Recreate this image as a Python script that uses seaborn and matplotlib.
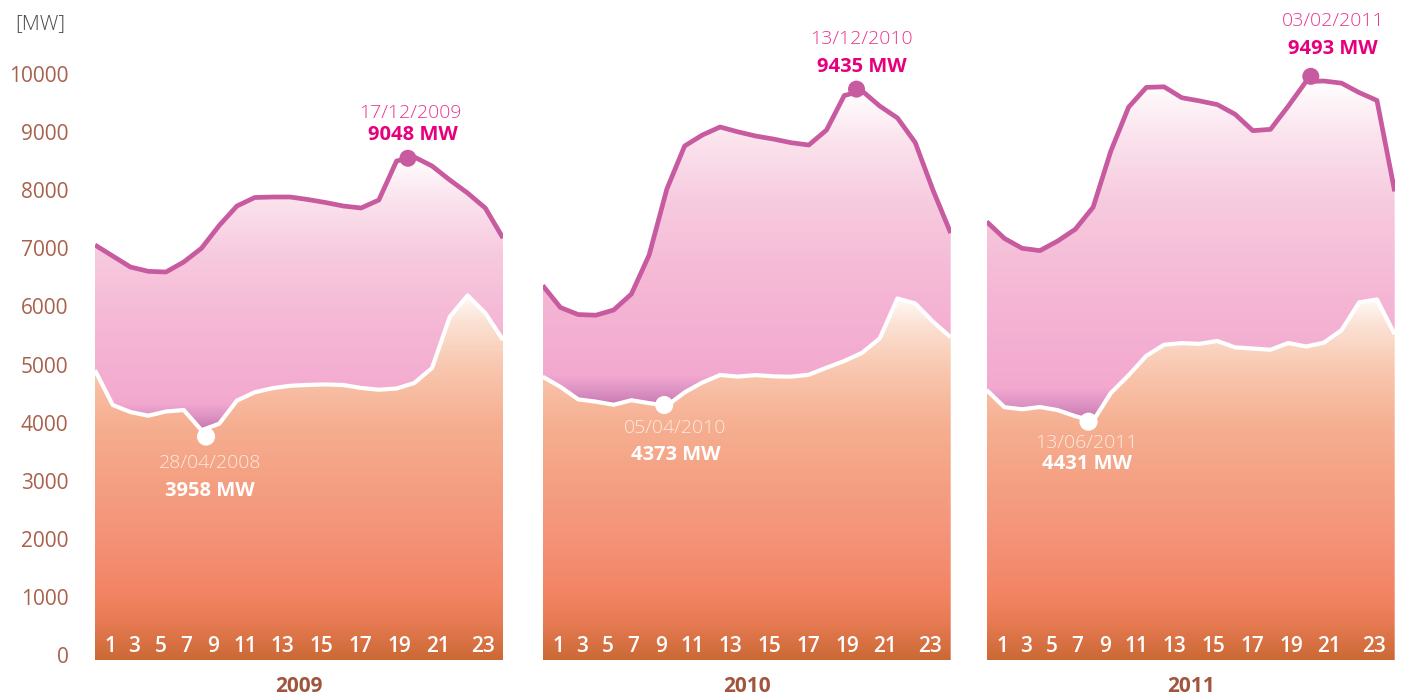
import numpy as np
import pandas as pd
import matplotlib
matplotlib.use("Agg")
import matplotlib.pyplot as plt
import seaborn as sns
from matplotlib.colors import to_rgba

# ---------------- data ----------------
hours = list(range(1, 25))
years = ["2009", "2010", "2011"]

max_2009 = [7057, 6867, 6678, 6604, 6592, 6764, 7000, 7392, 7728, 7874, 7883, 7883,
            7840, 7788, 7728, 7694, 7831, 8503, 8571, 8417, 8176, 7952, 7694, 7177]
min_2009 = [4900, 4303, 4182, 4119, 4191, 4217, 3870, 3980, 4379, 4522, 4592, 4634,
            4649, 4657, 4647, 4596, 4566, 4587, 4682, 4940, 5820, 6188, 5886, 5422]

max_2010 = [6360, 5981, 5860, 5849, 5938, 6213, 6885, 8021, 8761, 8950, 9088, 9005,
            8933, 8881, 8818, 8778, 9036, 9630, 9710, 9449, 9243, 8821, 8003, 7263]
min_2010 = [4790, 4615, 4400, 4361, 4307, 4385, 4335, 4290, 4520, 4690, 4819, 4792,
            4818, 4797, 4790, 4825, 4945, 5060, 5200, 5450, 6137, 6050, 5737, 5470]

max_2011 = [7458, 7170, 7000, 6960, 7125, 7330, 7708, 8676, 9430, 9770, 9780, 9592,
            9537, 9474, 9308, 9025, 9048, 9447, 9870, 9880, 9843, 9680, 9545, 7980]
min_2011 = [4560, 4265, 4230, 4268, 4215, 4110, 4030, 4510, 4815, 5150, 5340, 5368,
            5356, 5405, 5295, 5275, 5254, 5370, 5310, 5375, 5590, 6070, 6120, 5520]

peak_hour = [18.64, 18.69, 19.27]
peak_value = [8550, 9740, 9960]
peak_date = ["17/12/2009", "13/12/2010", "03/02/2011"]
peak_label = ["9048 MW", "9435 MW", "9493 MW"]

low_hour = [7.26, 7.85, 6.74]
low_value = [3760, 4303, 4016]
low_date = ["28/04/2008", "05/04/2010", "13/06/2011"]
low_label = ["3958 MW", "4373 MW", "4431 MW"]

y_ticks = [0, 1000, 2000, 3000, 4000, 5000, 6000, 7000, 8000, 9000, 10000]
hour_labels = ["1", "3", "5", "7", "9", "11", "13", "15", "17", "19", "21", "23"]

max_series = [max_2009, max_2010, max_2011]
min_series = [min_2009, min_2010, min_2011]

# ---------------- styling ----------------
sns.set_theme(style="white")
plt.rcParams["font.family"] = ["Open Sans", "DejaVu Sans"]

W, H = 1402, 695
fig = plt.figure(figsize=(W / 100, H / 100), dpi=100)
fig.patch.set_facecolor("white")

panel_left_px = [95, 542.7, 986.7]
panel_w_px = 408
ax_bottom_px = 660
YLO, YHI = -86, 11274

label_frac = [0.038, 0.096, 0.16, 0.223, 0.29, 0.368, 0.46, 0.555, 0.65, 0.746, 0.84, 0.95]

peak_date_off = [(2, 45), (5, 50), (22, 55)]
peak_val_off = [(5, 23), (5, 22), (22, 27)]
low_date_off = [(4, -26), (11, -23), (-2, -21)]
low_val_off = [(4, -54), (12, -50), (-2, -42)]

pink_stops = [(0.0, "#FFFFFF"), (0.15, "#FBE4EE"), (0.35, "#F7CBDF"), (0.6, "#F5B8D5"),
              (0.9, "#F3A9CF"), (0.95, "#DE94C4"), (1.0, "#C676AF")]
orange_stops = [(0.0, "#FFFAF6"), (0.07, "#FBE2D5"), (0.19, "#F9C8B0"), (0.35, "#F6AF91"),
                (0.51, "#F5A082"), (0.67, "#F49278"), (0.83, "#F28362"), (0.9, "#E67A52"),
                (1.0, "#CB6935")]


def gradient_image(stops, n=300):
    t = np.linspace(0, 1, n)
    pos = [s[0] for s in stops]
    cols = np.array([to_rgba(s[1]) for s in stops])
    rgba = np.stack([np.interp(t, pos, cols[:, k]) for k in range(4)], axis=1)
    return rgba.reshape(n, 1, 4)


def gradient_fill(ax, x, y_bot, y_top, stops, lo, hi):
    poly = ax.fill_between(x, y_bot, y_top, color="none", lw=0)
    img = gradient_image(stops)
    im = ax.imshow(img, extent=[x[0], x[-1], lo, hi], aspect="auto",
                   origin="upper", zorder=1, interpolation="bilinear")
    im.set_clip_path(poly.get_paths()[0], ax.transData)
    poly.remove()


axes = []
for i, yr in enumerate(years):
    ax = fig.add_axes([panel_left_px[i] / W, (H - ax_bottom_px) / H,
                       panel_w_px / W, ax_bottom_px / H])
    axes.append(ax)
    df = pd.DataFrame({"hour": hours, "max": max_series[i], "min": min_series[i]})
    x = np.array(hours, dtype=float)
    lower = np.array(min_series[i], dtype=float)
    upper = np.array(max_series[i], dtype=float)

    # orange area under the minimum-day curve
    gradient_fill(ax, x, np.full_like(lower, YLO), lower, orange_stops, YLO, lower.max())
    # pink area between minimum and maximum day curves
    gradient_fill(ax, x, lower, upper, pink_stops, lower.min(), upper.max())

    sns.lineplot(data=df, x="hour", y="max", ax=ax, color="#C85AA0", linewidth=3.4,
                 zorder=3, solid_joinstyle="round", solid_capstyle="butt")
    sns.lineplot(data=df, x="hour", y="min", ax=ax, color="white", linewidth=3.0,
                 zorder=3, solid_joinstyle="round", solid_capstyle="butt")

    sns.scatterplot(x=[peak_hour[i]], y=[peak_value[i]], ax=ax, color="#C85AA0",
                    s=150, edgecolor="none", zorder=4)
    sns.scatterplot(x=[low_hour[i]], y=[low_value[i]], ax=ax, color="white",
                    s=170, edgecolor="none", zorder=4)

    # annotations
    ax.annotate(peak_date[i], (peak_hour[i], peak_value[i]), xytext=peak_date_off[i],
                textcoords="offset pixels", ha="center", va="center",
                fontsize=14, color="#E8368F", fontweight="light", zorder=5)
    ax.annotate(peak_label[i], (peak_hour[i], peak_value[i]), xytext=peak_val_off[i],
                textcoords="offset pixels", ha="center", va="center",
                fontsize=14.5, color="#E6007E", fontweight="bold", zorder=5)
    ax.annotate(low_date[i], (low_hour[i], low_value[i]), xytext=low_date_off[i],
                textcoords="offset pixels", ha="center", va="center",
                fontsize=14, color="#FDEAE0", fontweight="light", zorder=5)
    ax.annotate(low_label[i], (low_hour[i], low_value[i]), xytext=low_val_off[i],
                textcoords="offset pixels", ha="center", va="center",
                fontsize=14.5, color="white", fontweight="bold", zorder=5)

    # hour labels in the bottom band
    for fx, lab in zip(label_frac, hour_labels):
        ax.text(fx, (ax_bottom_px - 647) / ax_bottom_px, lab, transform=ax.transAxes,
                ha="center", va="center", fontsize=15, color="white",
                fontweight="semibold", zorder=5)

    # year label
    ax.text(0.5, -(686 - ax_bottom_px) / ax_bottom_px, yr, transform=ax.transAxes,
            ha="center", va="center", fontsize=15, color="#A0553D", fontweight="bold",
            clip_on=False)

    ax.set_xlim(1, 24)
    ax.set_ylim(YLO, YHI)
    ax.set_xlabel("")
    ax.set_ylabel("")
    ax.set_xticks([])
    for sp in ax.spines.values():
        sp.set_visible(False)
    ax.set_facecolor("none")
    if i == 0:
        ax.set_yticks(y_ticks)
        ax.set_yticklabels([str(v) for v in y_ticks])
        ax.tick_params(axis="y", length=0, pad=19, labelsize=15, labelcolor="#A8614C")
    else:
        ax.set_yticks([])

fig.text(15 / W, 1 - 24 / H, "[MW]", ha="left", va="center", fontsize=15,
         color="#4A4A4A", fontweight="light")

fig.savefig("out.png", dpi=100, facecolor="white")
